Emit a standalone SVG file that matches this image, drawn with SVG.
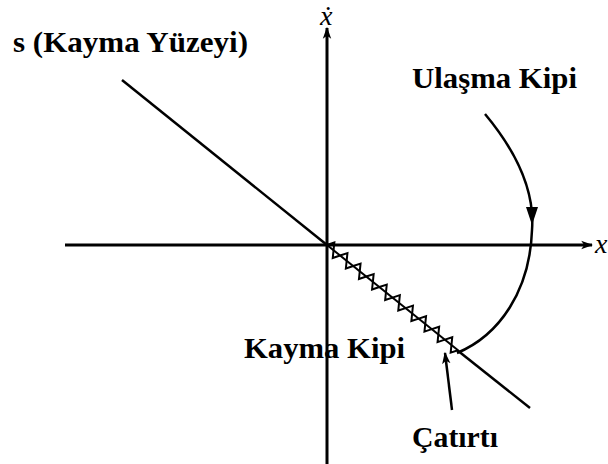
<svg xmlns="http://www.w3.org/2000/svg" width="608" height="464" viewBox="0 0 608 464">
<style>
.ln{stroke:#000;stroke-width:2.5;fill:none}
.th{stroke:#000;stroke-width:2;fill:none;stroke-linejoin:miter}
.lbl{font-family:"Liberation Serif","DejaVu Serif","Times New Roman",serif;font-weight:bold;font-size:30px;fill:#000}
.var{font-family:"Liberation Serif","DejaVu Serif","Times New Roman",serif;font-style:italic;font-size:28px;fill:#000}
</style>
<defs>
<marker id="ah2" viewBox="0 0 10 10" refX="9" refY="5" markerWidth="12" markerHeight="12" orient="auto" markerUnits="userSpaceOnUse">
<path d="M0,1.5 L10,5 L0,8.5 L2.5,5 z" fill="#000"/>
</marker>
</defs>
<rect width="608" height="464" fill="#fff"/>
<g id="connectors">
<line id="x-axis" class="ln" x1="65" y1="245" x2="592" y2="245" marker-end="url(#ah2)" style="stroke-width:3"/>
<line id="xdot-axis" class="ln" x1="327" y1="464" x2="327" y2="28" marker-end="url(#ah2)" style="stroke-width:3"/>
<line id="surface-upper" class="ln" x1="122" y1="80" x2="327" y2="245"/>
<line id="surface-lower" class="ln" x1="457" y1="350" x2="530" y2="408"/>
<g id="chattering-zigzag" transform="translate(327,245) rotate(38.76)">
<polyline class="th" points="0,0 4.2,-6.5 8.4,0 12.6,6.5 16.8,0 21,-6.5 25.2,0 29.4,6.5 33.6,0 37.8,-6.5 42,0 46.2,6.5 50.4,0 54.6,-6.5 58.8,0 63,6.5 67.2,0 71.4,-6.5 75.6,0 79.8,6.5 84,0 88.2,-6.5 92.4,0 96.6,6.5 100.8,0 105,-6.5 109.2,0 113.4,6.5 117.6,0 121.8,-6.5 126,0 130.2,6.5 134.4,0 138.6,-6.5 142.8,0 147,6.5 151.2,0 155.4,-6.5 159.6,0 163.8,6.5 168,0"/>
<line class="th" x1="0" y1="0" x2="168" y2="0"/>
</g>
<path id="reaching-curve" class="ln" d="M485,114 C515,150 535,190 532,230 C530,290 500,335 457,353"/>
<polygon points="526,207 538,207 532,225" fill="#000"/>
<line id="chatter-arrow" class="ln" x1="452" y1="410" x2="445" y2="353" marker-end="url(#ah2)"/>
</g>
<g id="label-s"><text class="lbl" x="13" y="52" textLength="235" lengthAdjust="spacingAndGlyphs">s (Kayma Yüzeyi)</text></g>
<g id="label-ulasma"><text class="lbl" x="412" y="88" textLength="165" lengthAdjust="spacingAndGlyphs">Ulaşma Kipi</text></g>
<g id="label-kayma"><text class="lbl" x="244" y="358" textLength="161" lengthAdjust="spacingAndGlyphs">Kayma Kipi</text></g>
<g id="label-caturti"><text class="lbl" x="412" y="447" textLength="86" lengthAdjust="spacingAndGlyphs">Çatırtı</text></g>
<g id="label-x"><text class="var" x="595" y="253">x</text></g>
<g id="label-xdot"><text class="var" x="320" y="25">ẋ</text></g>
</svg>
